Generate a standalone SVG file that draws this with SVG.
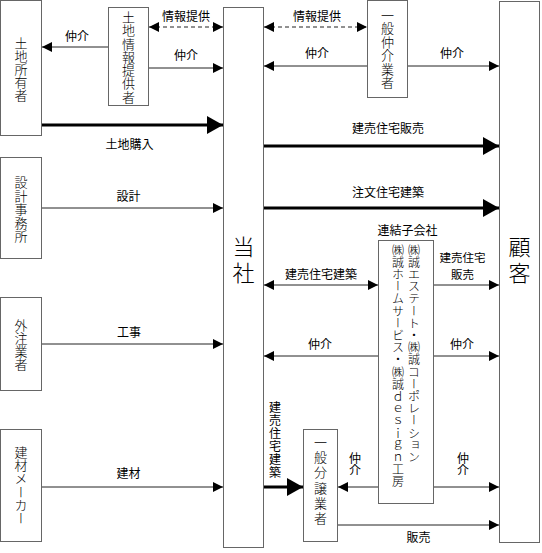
<svg xmlns="http://www.w3.org/2000/svg" width="542" height="553" viewBox="0 0 542 553">
<style>
.box{fill:#fff;stroke:#666;stroke-width:1}
.t{font-family:"Noto Sans CJK JP","Noto Sans",sans-serif;fill:#000}
.n{font-size:13px;font-weight:300}
.big{font-size:22px;font-weight:300}
.l{font-size:12px;text-anchor:middle}
.v{writing-mode:vertical-rl}
.ln{stroke:#222;stroke-width:1;fill:none}
.th{stroke:#000;stroke-width:3;fill:none}
.ds{stroke:#222;stroke-width:1;fill:none;stroke-dasharray:4 3}
</style>
<defs>
<marker id="a" viewBox="0 0 10 10" refX="10" refY="5" markerWidth="10" markerHeight="10" markerUnits="userSpaceOnUse" orient="auto-start-reverse"><path d="M0,0 L10,5 L0,10 z" fill="#000"/></marker>
<marker id="A" viewBox="0 0 16 18" refX="16" refY="9" markerWidth="16" markerHeight="18" markerUnits="userSpaceOnUse" orient="auto"><path d="M0,0 L16,9 L0,18 z" fill="#000"/></marker>
</defs>

<g id="connectors">
<line class="ds" x1="149" y1="27" x2="223" y2="27" marker-start="url(#a)" marker-end="url(#a)"/>
<line class="ln" x1="108" y1="47" x2="42" y2="47" marker-end="url(#a)"/>
<line class="ln" x1="149" y1="68" x2="223" y2="68" marker-end="url(#a)"/>
<line class="th" x1="42" y1="125" x2="223" y2="125" marker-end="url(#A)"/>
<line class="ds" x1="264" y1="27" x2="367" y2="27" marker-start="url(#a)" marker-end="url(#a)"/>
<line class="ln" x1="367" y1="66" x2="264" y2="66" marker-end="url(#a)"/>
<line class="ln" x1="408" y1="66" x2="499" y2="66" marker-end="url(#a)"/>
<line class="th" x1="264" y1="146" x2="499" y2="146" marker-end="url(#A)"/>
<line class="ln" x1="42" y1="208" x2="223" y2="208" marker-end="url(#a)"/>
<line class="th" x1="264" y1="208" x2="499" y2="208" marker-end="url(#A)"/>
<line class="ln" x1="264" y1="285" x2="378" y2="285" marker-start="url(#a)" marker-end="url(#a)"/>
<line class="ln" x1="434" y1="285" x2="499" y2="285" marker-end="url(#a)"/>
<line class="ln" x1="42" y1="344" x2="223" y2="344" marker-end="url(#a)"/>
<line class="ln" x1="378" y1="356" x2="264" y2="356" marker-end="url(#a)"/>
<line class="ln" x1="434" y1="356" x2="499" y2="356" marker-end="url(#a)"/>
<line class="ln" x1="42" y1="487" x2="223" y2="487" marker-end="url(#a)"/>
<line class="th" x1="264" y1="487" x2="303" y2="487" marker-end="url(#A)"/>
<line class="ln" x1="378" y1="487" x2="338" y2="487" marker-end="url(#a)"/>
<line class="ln" x1="434" y1="487" x2="499" y2="487" marker-end="url(#a)"/>
<line class="ln" x1="338" y1="525" x2="499" y2="525" marker-end="url(#a)"/>

<text class="t l" x="186" y="20.5">情報提供</text>
<text class="t l" x="77" y="41">仲介</text>
<text class="t l" x="186" y="59.5">仲介</text>
<text class="t l" x="129.5" y="148.5">土地購入</text>
<text class="t l" x="317" y="20.5">情報提供</text>
<text class="t l" x="317" y="58">仲介</text>
<text class="t l" x="452" y="58">仲介</text>
<text class="t l" x="388" y="133">建売住宅販売</text>
<text class="t l" x="128.5" y="201">設計</text>
<text class="t l" x="388" y="197">注文住宅建築</text>
<text class="t l" x="407.5" y="234.5">連結子会社</text>
<text class="t l" x="321" y="278.5">建売住宅建築</text>
<text class="t l" x="462.5" y="262" style="font-size:11.5px">建売住宅</text>
<text class="t l" x="462.5" y="279" style="font-size:11.5px">販売</text>
<text class="t l" x="129" y="337">工事</text>
<text class="t l" x="320" y="348.5">仲介</text>
<text class="t l" x="462" y="348.5">仲介</text>
<text class="t l" x="128.5" y="477.5">建材</text>
<text class="t l" x="418.5" y="541.5">販売</text>
<text class="t v" x="275" y="401" style="font-size:12px;letter-spacing:1px">建売住宅建築</text>
<text class="t v" x="355" y="452" style="font-size:12px">仲介</text>
<text class="t v" x="463" y="452" style="font-size:12px">仲介</text>
</g>

<g id="n-landowner">
<rect class="box" x="0.5" y="0.5" width="41" height="135"/>
<text class="t n v" x="21" y="36.5">土地所有者</text>
</g>
<g id="n-landinfo">
<rect class="box" x="108.5" y="7.5" width="40" height="98"/>
<text class="t n v" x="128.5" y="10.5" style="letter-spacing:0.3px">土地情報提供者</text>
</g>
<g id="n-broker">
<rect class="box" x="367.5" y="0.5" width="40" height="97"/>
<text class="t n v" x="387.5" y="8.5" style="letter-spacing:0.4px">一般仲介業者</text>
</g>
<g id="n-design">
<rect class="box" x="0.5" y="157.5" width="41" height="101"/>
<text class="t n v" x="21" y="175.5" style="letter-spacing:0.6px">設計事務所</text>
</g>
<g id="n-contractor">
<rect class="box" x="0.5" y="297.5" width="41" height="93"/>
<text class="t n v" x="21" y="318.5">外注業者</text>
</g>
<g id="n-maker">
<rect class="box" x="0.5" y="429.5" width="41" height="112"/>
<text class="t n v" x="21" y="445.5" style="letter-spacing:0.2px">建材メーカー</text>
</g>
<g id="n-company">
<rect class="box" x="223.5" y="7.5" width="40" height="540"/>
<text class="t big v" x="243.5" y="236" style="letter-spacing:4px">当社</text>
</g>
<g id="n-customer">
<rect class="box" x="499.5" y="1.5" width="40" height="541"/>
<text class="t big v" x="519.5" y="236" style="letter-spacing:4px">顧客</text>
</g>
<g id="n-subsidiary">
<rect class="box" x="378.5" y="240.5" width="55" height="263"/>
<text class="t v" x="414" y="244" style="font-size:12px;letter-spacing:0.2px;font-weight:300">㈱誠エステート・㈱誠コーポレーション</text>
<text class="t v" x="398" y="244" style="font-size:12px;letter-spacing:0.2px;font-weight:300">㈱誠ホームサービス・㈱誠ｄｅｓｉｇｎ工房</text>
</g>
<g id="n-developer">
<rect class="box" x="303.5" y="429.5" width="34" height="112"/>
<text class="t n v" x="320.5" y="435.5" style="letter-spacing:2.2px">一般分譲業者</text>
</g>
</svg>
